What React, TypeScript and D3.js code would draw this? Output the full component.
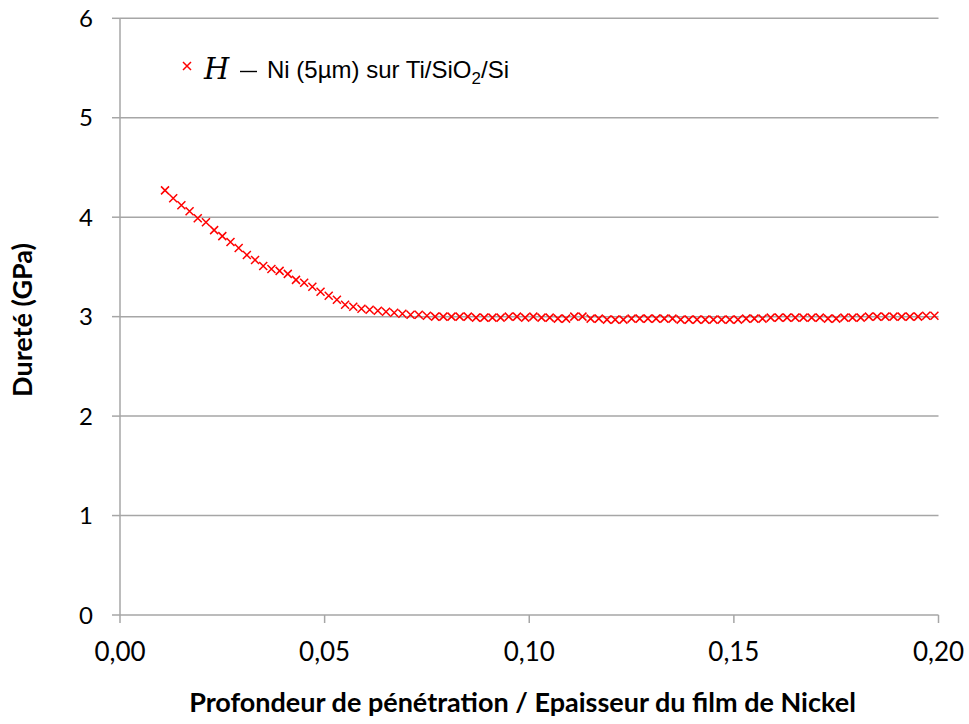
import React from "react";
import * as d3 from "d3";

const xStart = 0.011;
const xStep = 0.002;
const hardness = [
  4.27, 4.19, 4.12, 4.06, 3.99, 3.95, 3.87, 3.81, 3.75, 3.69,
  3.62, 3.57, 3.51, 3.48, 3.46, 3.43, 3.37, 3.34, 3.30, 3.25,
  3.21, 3.17, 3.12, 3.10, 3.08, 3.07, 3.06, 3.05, 3.04, 3.03,
  3.02, 3.02, 3.01, 3.00, 3.00, 3.00, 3.00, 3.00, 2.99, 2.99,
  2.99, 2.99, 3.00, 3.00, 2.99, 3.00, 2.99, 2.99, 2.98, 2.98,
  3.00, 3.00, 2.98, 2.98, 2.97, 2.97, 2.97, 2.98, 2.98, 2.98,
  2.98, 2.98, 2.98, 2.97, 2.97, 2.97, 2.97, 2.97, 2.97, 2.97,
  2.97, 2.98, 2.98, 2.98, 2.99, 2.99, 2.99, 2.99, 2.99, 2.99,
  2.99, 2.98, 2.98, 2.99, 2.99, 2.99, 3.00, 3.00, 3.00, 3.00,
  3.00, 3.00, 3.00, 3.01, 3.01,
];
const depth = hardness.map((_, i) => xStart + i * xStep);
const xTicks = [0, 0.05, 0.1, 0.15, 0.2];
const yTicks = [0, 1, 2, 3, 4, 5, 6];
const xTitle = "Profondeur de pénétration / Epaisseur du film de Nickel";
const yTitle = "Dureté (GPa)";

const W = 969;
const H = 724;
const L = 120;
const R = 938.5;
const T = 18.3;
const B = 615;

export default function App() {
  const x = d3.scaleLinear().domain([0, 0.2]).range([L, R]);
  const y = d3.scaleLinear().domain([0, 6]).range([B, T]);
  const grid = "#a6a6a6";
  const fmt = (v: number) => v.toFixed(2).replace(".", ",");
  const s = 4;
  return (
    <svg width={W} height={H} style={{ position: "absolute", left: 0, top: 0, background: "#fff" }}>
      {yTicks.map((t) => (
        <g key={t}>
          {t > 0 && <line x1={L} x2={R} y1={y(t)} y2={y(t)} stroke={grid} strokeWidth={1.5} />}
          <line x1={L - 8} x2={L} y1={y(t)} y2={y(t)} stroke={grid} strokeWidth={1.5} />
          <text x={93} y={y(t)} dy="0.36em" textAnchor="end" fontFamily="Lato" fontSize={24} fill="#000">
            {t}
          </text>
        </g>
      ))}
      <line x1={L} x2={L} y1={T} y2={B} stroke={grid} strokeWidth={1.5} />
      <line x1={L} x2={R} y1={B} y2={B} stroke={grid} strokeWidth={1.5} />
      {xTicks.map((t) => (
        <g key={t}>
          <line x1={x(t)} x2={x(t)} y1={B} y2={B + 8} stroke={grid} strokeWidth={1.5} />
          <text x={x(t)} y={661} textAnchor="middle" fontFamily="Lato" fontSize={26} fill="#000">
            {fmt(t)}
          </text>
        </g>
      ))}
      {depth.map((d, i) => {
        const cx = x(d);
        const cy = y(hardness[i]);
        return (
          <path
            key={i}
            d={`M${cx - s},${cy - s}L${cx + s},${cy + s}M${cx - s},${cy + s}L${cx + s},${cy - s}`}
            stroke="#ff0000"
            strokeWidth={1.5}
            fill="none"
          />
        );
      })}
      <path d={`M${187 - s},${66 - s}L${187 + s},${66 + s}M${187 - s},${66 + s}L${187 + s},${66 - s}`} stroke="#ff0000" strokeWidth={1.5} />
      <text x={204} y={79} fontFamily="'DejaVu Serif', 'Liberation Serif', serif" fontStyle="italic" fontSize={29} fill="#000">
        H
      </text>
      <line x1={240} x2={257} y1={71.5} y2={71.5} stroke="#000" strokeWidth={1.4} />
      <text x={267} y={78} fontFamily="'Liberation Sans', Arial, sans-serif" fontSize={24} fill="#000">
        Ni (5µm) sur Ti/SiO
        <tspan fontSize={17} dy={6}>2</tspan>
        <tspan dy={-6}>/Si</tspan>
      </text>
      <text x={(190 + 855) / 2} y={712} textAnchor="middle" fontFamily="Lato" fontWeight="bold" fontSize={27} fill="#000">
        {xTitle}
      </text>
      <text
        transform={`translate(32,320) rotate(-90)`}
        textAnchor="middle"
        fontFamily="Lato"
        fontWeight="bold"
        fontSize={27}
        fill="#000"
      >
        {yTitle}
      </text>
    </svg>
  );
}
